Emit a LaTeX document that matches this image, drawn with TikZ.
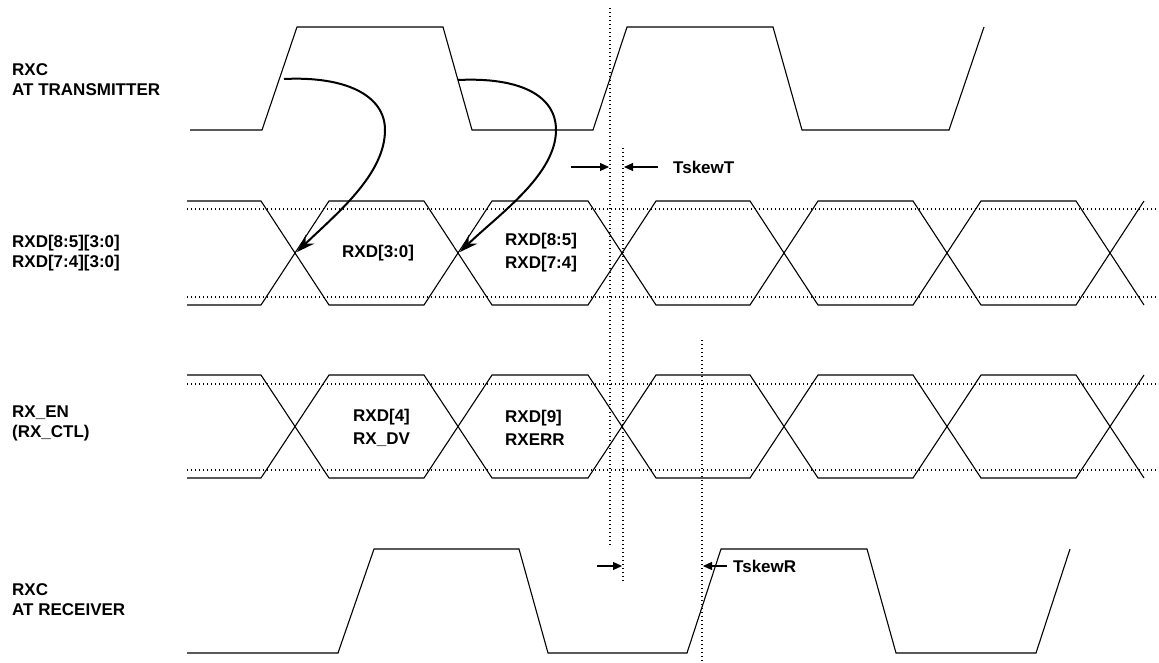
\documentclass[tikz,border=0pt]{standalone}
\usepackage{fontspec}
\setmainfont{Liberation Sans}
\usetikzlibrary{arrows.meta}
\newcommand\DataRow[2]{%
 \draw[wave] (187,#1) -- (261,#1) -- (329,#2) -- (424,#2) -- (492,#1) -- (588,#1) -- (656,#2) -- (750,#2) -- (818,#1) -- (913,#1) -- (981,#2) -- (1076,#2) -- (1144,#1);
 \draw[wave] (187,#2) -- (261,#2) -- (329,#1) -- (424,#1) -- (492,#2) -- (588,#2) -- (656,#1) -- (750,#1) -- (818,#2) -- (913,#2) -- (981,#1) -- (1076,#1) -- (1144,#2);}
\begin{document}
\begin{tikzpicture}[x=1pt,y=-1pt,
  wave/.style={line width=1.1pt, line join=miter},
  guide/.style={line width=1.2pt, dash pattern=on 1.2pt off 2.8pt},
  lbl/.style={font=\bfseries\fontsize{17}{20}\selectfont, align=left, anchor=west, inner sep=0},
  ilbl/.style={font=\bfseries\fontsize{17}{23}\selectfont, align=left, anchor=west, inner sep=0},
  bigarrow/.style={line width=2pt, -{Stealth[length=18pt,width=12pt]}},
  skew/.style={line width=1.1pt, -{Triangle[length=9pt,width=8pt]}}]
\useasboundingbox (0,0) rectangle (1159,663);

% top clock
\draw[wave] (190,130) -- (262,130) -- (297,27) -- (443,27) -- (472,130) -- (593,130) -- (627,27) -- (773,27) -- (802,130) -- (949,130) -- (984,27);

% data rows
\DataRow{201}{305}
\DataRow{375}{478}
\draw[guide] (187,209) -- (1157,209);
\draw[guide] (187,297) -- (1157,297);
\draw[guide] (187,384) -- (1157,384);
\draw[guide] (187,470) -- (1157,470);

% bottom clock
\draw[wave] (187,653) -- (338,653) -- (374,549) -- (519,549) -- (548,653) -- (687,653) -- (721,549) -- (867,549) -- (896,653) -- (1036,653) -- (1070,549);

% vertical guides
\draw[guide] (610,8) -- (610,547);
\draw[guide] (623,148) -- (623,582);
\draw[guide] (702,340) -- (702,663);

% labels
\node[lbl] (l1) at (12,80) {RXC\\AT TRANSMITTER};
\node[lbl] (l2) at (12,253) {RXD[8:5][3:0]\\RXD[7:4][3:0]};
\node[lbl] (l3) at (12,423) {RX\_EN\\(RX\_CTL)};
\node[lbl] (l4) at (12,600) {RXC\\AT RECEIVER};

\node[ilbl] (d1) at (342,253) {RXD[3:0]};
\node[ilbl] (d2) at (505,253) {RXD[8:5]\\RXD[7:4]};
\node[ilbl] (e1) at (353,428) {RXD[4]\\RX\_DV};
\node[ilbl] (e2) at (505,428) {RXD[9]\\RXERR};

% skew markers
\coordinate (tA) at (571,167); \coordinate (tB) at (609,167);
\coordinate (tC) at (658,167); \coordinate (tD) at (624,167);
\draw[skew] (tA) -- (tB);
\draw[skew] (tC) -- (tD);
\node[lbl] (tskT) at (673,167) {TskewT};
\coordinate (rA) at (597,566); \coordinate (rB) at (622,566);
\coordinate (rC) at (727,566); \coordinate (rD) at (703,566);
\draw[skew] (rA) -- (rB);
\draw[skew] (rC) -- (rD);
\node[lbl] (tskR) at (733,566) {TskewR};

% curved arrows
\coordinate (a1s) at (284,79); \coordinate (a1e) at (297,252);
\coordinate (a2s) at (458,80); \coordinate (a2e) at (460,252);
\draw[bigarrow] (a1s) .. controls (345,76) and (385,95) .. (385,130) .. controls (385,175) and (335,215) .. (a1e);
\draw[bigarrow] (a2s) .. controls (519,77) and (556,95) .. (556,130) .. controls (556,175) and (498,215) .. (a2e);
\end{tikzpicture}
\end{document}
